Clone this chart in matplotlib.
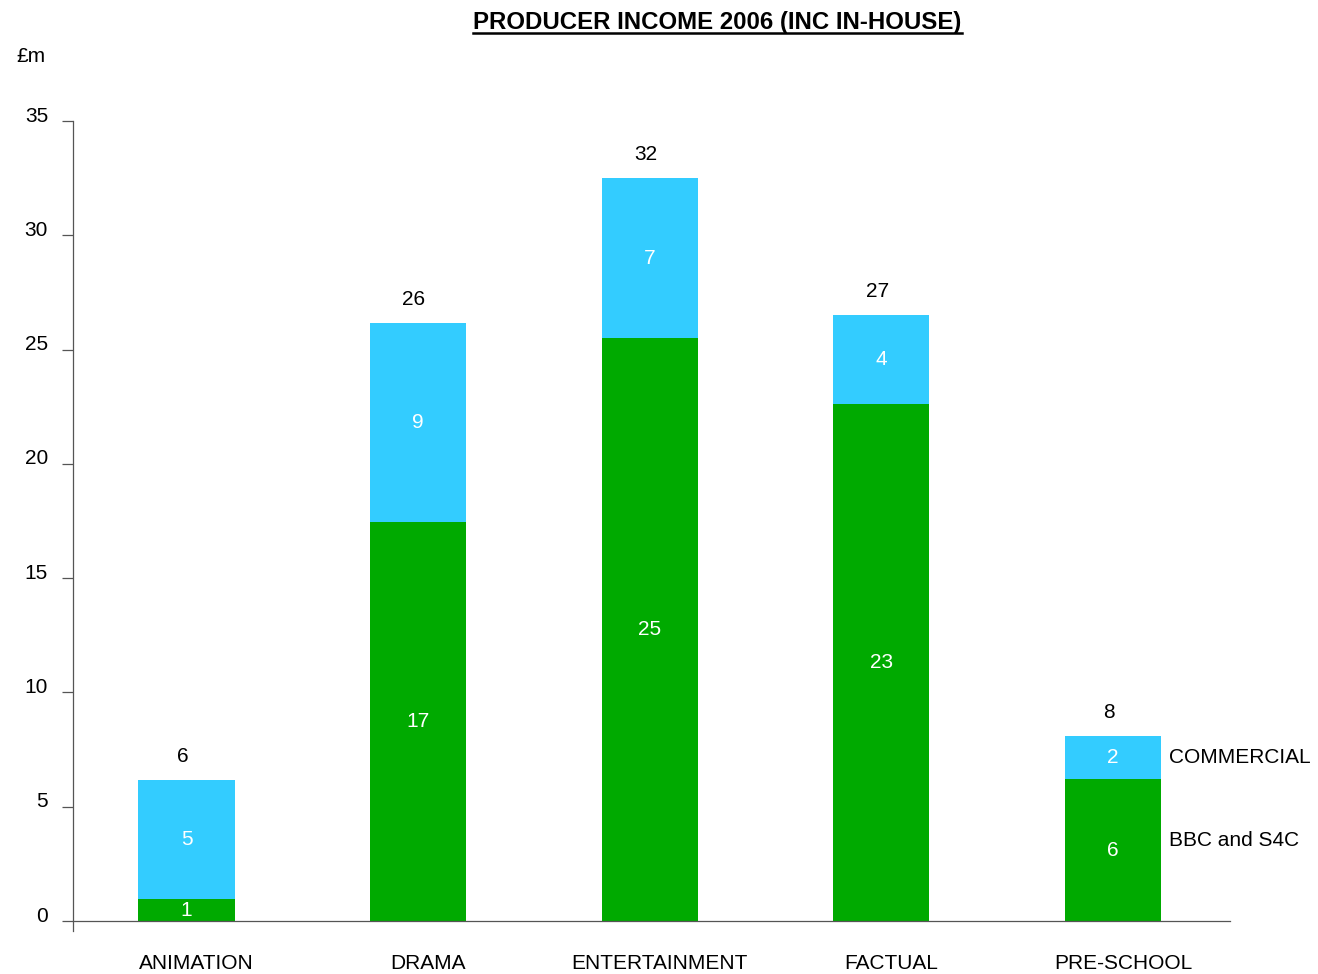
import matplotlib
matplotlib.use("Agg")
import matplotlib.pyplot as plt
from matplotlib.lines import Line2D
from matplotlib.transforms import ScaledTranslation

plt.rcParams["font.family"] = ["Liberation Sans", "DejaVu Sans"]

categories = ["ANIMATION", "DRAMA", "ENTERTAINMENT", "FACTUAL", "PRE-SCHOOL"]
bbc_s4c = [0.96, 17.45, 25.49, 22.62, 6.2]
commercial = [5.2, 8.7, 7.0, 3.9, 1.9]
series_names = ["BBC and S4C", "COMMERCIAL"]

GREEN = "#00AA00"
BLUE = "#33CCFF"
BAR_W = 0.415
FS = 15

fig = plt.figure(figsize=(13.18, 9.74), dpi=100)
ax = fig.add_axes([0.05539, 0.04384, 0.87784, 0.8319])

x = list(range(len(categories)))
totals = [g + c for g, c in zip(bbc_s4c, commercial)]

ax.bar(x, bbc_s4c, width=BAR_W, color=GREEN, linewidth=0, zorder=2)
ax.bar(x, commercial, width=BAR_W, bottom=bbc_s4c, color=BLUE, linewidth=0, zorder=2)

# segment values in white, totals in black above each stack
for i in x:
    ax.text(i, bbc_s4c[i] / 2, f"{bbc_s4c[i]:.0f}", color="white",
            ha="center", va="center", fontsize=FS)
    ax.text(i, bbc_s4c[i] + commercial[i] / 2, f"{commercial[i]:.0f}",
            color="white", ha="center", va="center", fontsize=FS)
    ax.annotate(f"{totals[i]:.0f}", xy=(i, totals[i]), xytext=(-3, 17),
                textcoords="offset points", ha="center", va="center",
                fontsize=FS)

# series names beside the last stack
last = x[-1]
ax.annotate(series_names[1], xy=(last + BAR_W / 2, bbc_s4c[last] + commercial[last] / 2),
            xytext=(6, 0), textcoords="offset points", ha="left", va="center",
            fontsize=FS)
ax.annotate(series_names[0], xy=(last + BAR_W / 2, bbc_s4c[last] / 2),
            xytext=(6, 7), textcoords="offset points", ha="left", va="center",
            fontsize=FS)

ax.set_xlim(-0.49, 4.505)
ax.set_ylim(-0.45, 35)
ax.set_yticks(range(0, 36, 5))
ax.set_xticks(x)
ax.set_xticklabels(categories)

for s in ("top", "right"):
    ax.spines[s].set_visible(False)
ax.spines["bottom"].set_position(("data", 0))
for s in ("left", "bottom"):
    ax.spines[s].set_color("#555555")
    ax.spines[s].set_linewidth(0.9)

ax.tick_params(axis="y", direction="out", length=8, width=0.9, color="#555555",
               pad=10, labelsize=FS)
ax.tick_params(axis="x", length=0, pad=24, labelsize=FS)

up = ScaledTranslation(0, 7 / 100, fig.dpi_scale_trans)
for lbl in ax.get_yticklabels():
    lbl.set_transform(lbl.get_transform() + up)
right = ScaledTranslation(10 / 100, 0, fig.dpi_scale_trans)
for lbl in ax.get_xticklabels():
    lbl.set_transform(lbl.get_transform() + right)

fig.text(16 / 1318, 1 - 57 / 974, "£m", ha="left", va="center", fontsize=FS)

title = fig.text(0.5445, 1 - 22 / 974, "PRODUCER INCOME 2006 (INC IN-HOUSE)",
                 ha="center", va="center", fontsize=17.3, fontweight="bold")

# underline the title
fig.canvas.draw()
bb = title.get_window_extent().transformed(fig.transFigure.inverted())
uy = bb.y0 + 0.001
fig.add_artist(Line2D([bb.x0, bb.x1], [uy, uy], transform=fig.transFigure,
                      color="black", linewidth=1.8))

fig.savefig("out.png", dpi=100)
